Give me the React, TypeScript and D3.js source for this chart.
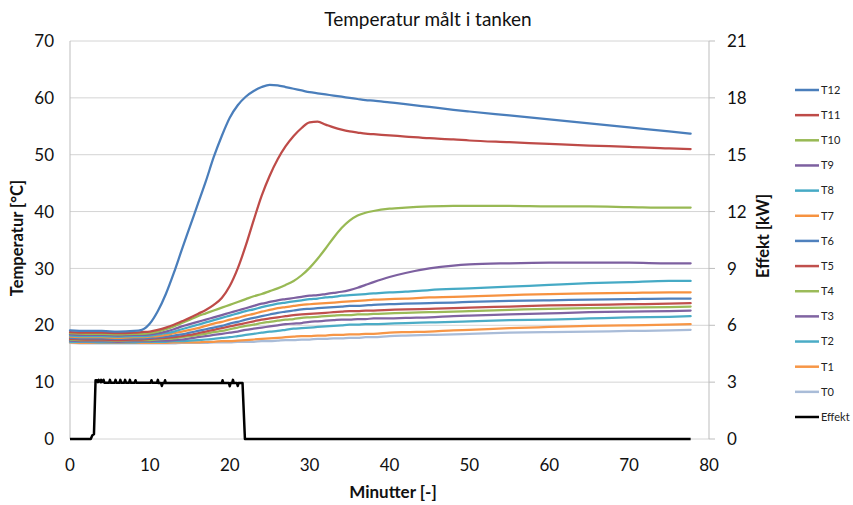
import React from "react";
import * as d3 from "d3";

const minutes = [0, 2, 4, 6, 8, 9, 10, 11, 12, 13, 14, 15, 16, 17, 18, 19, 20, 21, 22, 23, 24, 25, 26, 27, 28, 29, 30, 31, 32, 33, 34, 35, 36, 37, 38, 40, 42, 45, 48, 50, 55, 60, 65, 70, 75, 77.7];

const T12 = [19.1, 19.0, 19.0, 18.9, 19.0, 19.2, 20.3, 22.5, 25.5, 29.2, 33.3, 37.3, 41.3, 45.3, 49.6, 53.3, 56.5, 58.7, 60.2, 61.2, 61.9, 62.3, 62.2, 61.9, 61.6, 61.3, 61.0, 60.8, 60.6, 60.4, 60.2, 60.0, 59.8, 59.6, 59.5, 59.2, 58.9, 58.4, 57.9, 57.6, 56.9, 56.2, 55.5, 54.8, 54.1, 53.7];
const T11 = [18.8, 18.7, 18.7, 18.6, 18.7, 18.8, 18.9, 19.2, 19.6, 20.1, 20.7, 21.3, 22.0, 22.7, 23.6, 24.8, 26.9, 30.0, 34.0, 38.5, 42.8, 46.3, 49.2, 51.5, 53.3, 54.7, 55.7, 55.8, 55.3, 54.8, 54.4, 54.1, 53.9, 53.7, 53.6, 53.4, 53.2, 52.9, 52.7, 52.5, 52.2, 51.9, 51.6, 51.4, 51.1, 51.0];
const T10 = [18.6, 18.5, 18.5, 18.4, 18.5, 18.5, 18.6, 18.9, 19.3, 19.8, 20.4, 21.0, 21.6, 22.1, 22.6, 23.1, 23.6, 24.1, 24.6, 25.1, 25.5, 26.0, 26.5, 27.1, 27.8, 28.8, 30.1, 31.7, 33.5, 35.4, 37.1, 38.4, 39.3, 39.8, 40.1, 40.5, 40.7, 40.9, 41.0, 41.0, 41.0, 40.9, 40.9, 40.8, 40.7, 40.7];
const T9 = [18.4, 18.3, 18.3, 18.2, 18.3, 18.3, 18.4, 18.6, 18.9, 19.3, 19.8, 20.2, 20.6, 21.0, 21.4, 21.8, 22.2, 22.6, 23.0, 23.4, 23.8, 24.1, 24.4, 24.6, 24.8, 25.0, 25.2, 25.3, 25.5, 25.7, 25.9, 26.2, 26.6, 27.1, 27.6, 28.5, 29.2, 30.0, 30.5, 30.7, 30.9, 31.0, 31.0, 31.0, 30.9, 30.9];
const T8 = [18.2, 18.1, 18.1, 18.0, 18.1, 18.1, 18.2, 18.4, 18.6, 18.9, 19.3, 19.7, 20.1, 20.5, 20.9, 21.3, 21.7, 22.1, 22.5, 22.8, 23.2, 23.5, 23.8, 24.0, 24.2, 24.4, 24.6, 24.7, 24.9, 25.0, 25.2, 25.3, 25.4, 25.5, 25.6, 25.8, 25.9, 26.2, 26.4, 26.5, 26.8, 27.1, 27.4, 27.6, 27.8, 27.8];
const T7 = [18.0, 17.9, 17.9, 17.8, 17.9, 17.9, 18.0, 18.1, 18.3, 18.6, 18.9, 19.2, 19.5, 19.9, 20.3, 20.6, 21.0, 21.3, 21.7, 22.0, 22.4, 22.7, 23.0, 23.2, 23.4, 23.6, 23.7, 23.8, 23.9, 24.0, 24.1, 24.2, 24.3, 24.4, 24.5, 24.6, 24.7, 24.9, 25.0, 25.1, 25.3, 25.5, 25.6, 25.7, 25.8, 25.8];
const T6 = [17.8, 17.7, 17.7, 17.6, 17.7, 17.7, 17.8, 17.9, 18.0, 18.2, 18.4, 18.7, 19.0, 19.3, 19.6, 19.9, 20.3, 20.6, 21.0, 21.3, 21.6, 21.9, 22.2, 22.4, 22.6, 22.8, 22.9, 23.0, 23.1, 23.2, 23.3, 23.4, 23.4, 23.5, 23.6, 23.7, 23.8, 23.9, 24.0, 24.1, 24.3, 24.4, 24.5, 24.6, 24.7, 24.7];
const T5 = [17.6, 17.5, 17.5, 17.4, 17.5, 17.5, 17.6, 17.7, 17.8, 17.9, 18.1, 18.3, 18.6, 18.9, 19.2, 19.5, 19.8, 20.1, 20.4, 20.7, 21.0, 21.2, 21.4, 21.6, 21.8, 21.9, 22.0, 22.1, 22.2, 22.3, 22.4, 22.5, 22.5, 22.6, 22.6, 22.7, 22.8, 22.9, 23.0, 23.1, 23.3, 23.5, 23.6, 23.7, 23.8, 23.9];
const T4 = [17.5, 17.4, 17.4, 17.3, 17.4, 17.4, 17.4, 17.5, 17.6, 17.7, 17.9, 18.1, 18.3, 18.5, 18.8, 19.0, 19.3, 19.6, 19.9, 20.1, 20.4, 20.6, 20.8, 21.0, 21.1, 21.3, 21.4, 21.5, 21.6, 21.7, 21.8, 21.8, 21.9, 21.9, 22.0, 22.1, 22.2, 22.3, 22.4, 22.5, 22.7, 22.9, 23.0, 23.1, 23.2, 23.3];
const T3 = [17.3, 17.2, 17.2, 17.1, 17.2, 17.2, 17.2, 17.3, 17.3, 17.4, 17.5, 17.7, 17.9, 18.1, 18.3, 18.5, 18.7, 18.9, 19.2, 19.4, 19.6, 19.8, 20.0, 20.2, 20.3, 20.4, 20.6, 20.7, 20.8, 20.9, 21.0, 21.0, 21.1, 21.1, 21.2, 21.2, 21.3, 21.4, 21.6, 21.7, 21.9, 22.1, 22.3, 22.4, 22.5, 22.6];
const T2 = [17.1, 17.1, 17.0, 17.0, 17.0, 17.1, 17.1, 17.1, 17.1, 17.2, 17.2, 17.3, 17.4, 17.5, 17.6, 17.8, 17.9, 18.1, 18.3, 18.5, 18.7, 18.9, 19.0, 19.2, 19.4, 19.5, 19.6, 19.7, 19.8, 19.9, 20.0, 20.1, 20.1, 20.2, 20.2, 20.3, 20.4, 20.5, 20.6, 20.7, 20.9, 21.0, 21.2, 21.4, 21.5, 21.6];
const T1 = [17.0, 16.9, 16.9, 16.9, 16.9, 16.9, 16.9, 16.9, 16.9, 17.0, 17.0, 17.0, 17.0, 17.1, 17.1, 17.2, 17.2, 17.3, 17.4, 17.5, 17.6, 17.7, 17.8, 17.9, 18.0, 18.1, 18.1, 18.2, 18.2, 18.3, 18.3, 18.4, 18.4, 18.5, 18.5, 18.7, 18.8, 18.9, 19.1, 19.2, 19.5, 19.7, 19.9, 20.0, 20.1, 20.2];
const T0 = [16.9, 16.8, 16.8, 16.8, 16.8, 16.8, 16.8, 16.8, 16.8, 16.8, 16.9, 16.9, 16.9, 16.9, 17.0, 17.0, 17.0, 17.1, 17.1, 17.1, 17.2, 17.2, 17.3, 17.4, 17.4, 17.5, 17.5, 17.6, 17.6, 17.7, 17.7, 17.8, 17.8, 17.9, 17.9, 18.1, 18.2, 18.3, 18.4, 18.5, 18.7, 18.8, 18.9, 19.0, 19.1, 19.2];

const effektMinutes = [0, 2.6, 2.8, 3.0, 3.2, 3.4, 3.5, 3.6, 3.8, 3.9, 4.0, 4.2, 4.3, 4.9, 5.0, 5.1, 5.6, 5.7, 5.8, 6.2, 6.3, 6.4, 6.8, 6.9, 7.0, 7.4, 7.5, 7.6, 8.1, 8.2, 8.3, 10.1, 10.2, 10.3, 10.9, 11.0, 11.1, 11.4, 11.5, 11.6, 11.8, 11.9, 12.0, 19.0, 19.1, 19.2, 19.9, 20.0, 20.1, 20.3, 20.4, 20.5, 20.9, 21.0, 21.1, 21.6, 21.9, 77.7];
const effektKW = [0, 0, 0.2, 0.25, 3.1, 3.1, 3.0, 3.12, 3.0, 3.12, 3.0, 3.12, 2.97, 2.97, 3.12, 2.97, 2.97, 3.12, 2.97, 2.97, 3.12, 2.97, 2.97, 3.12, 2.97, 2.97, 3.12, 2.97, 2.97, 3.1, 2.97, 2.97, 3.1, 2.97, 2.97, 3.12, 2.95, 2.95, 2.8, 2.95, 2.95, 3.1, 2.95, 2.95, 3.1, 2.95, 2.95, 2.78, 2.95, 2.95, 3.12, 2.95, 2.95, 2.8, 2.95, 2.95, 0, 0];

const seriesNames = ["T12", "T11", "T10", "T9", "T8", "T7", "T6", "T5", "T4", "T3", "T2", "T1", "T0"];
const seriesValues = [T12, T11, T10, T9, T8, T7, T6, T5, T4, T3, T2, T1, T0];
const seriesColors = ["#4A7EBB", "#BE4B48", "#98B954", "#7D60A0", "#46AAC5", "#F69240", "#4F81BD", "#C0504D", "#9BBB59", "#8064A2", "#4BACC6", "#F79646", "#A9BCD8"];

const xTicks = [0, 10, 20, 30, 40, 50, 60, 70, 80];
const yTicks = [0, 10, 20, 30, 40, 50, 60, 70];
const yRightTicks = [0, 3, 6, 9, 12, 15, 18, 21];

const title = "Temperatur målt i tanken";
const xTitle = "Minutter [-]";
const yTitle = "Temperatur [°C]";
const yRightTitle = "Effekt [kW]";
const effektName = "Effekt";

const FONT = "Lato, 'Open Sans', sans-serif";

export default function App() {
  const W = 853, H = 505;
  const x = d3.scaleLinear().domain([0, 80]).range([70, 709]);
  const y = d3.scaleLinear().domain([0, 70]).range([439, 41]);
  const yR = d3.scaleLinear().domain([0, 21]).range([439, 41]);

  const tempLine = d3.line<number>()
    .x((_, i) => x(minutes[i]))
    .y((d) => y(d))
    .curve(d3.curveMonotoneX);

  const effektLine = d3.line<number>()
    .x((_, i) => x(effektMinutes[i]))
    .y((d) => yR(d));

  const legendNames = [...seriesNames, effektName];
  const legendColors = [...seriesColors, "#000000"];
  const legendY = d3.scalePoint<string>().domain(legendNames).range([90, 417]);

  const order = seriesValues.map((_, i) => i).reverse();

  return (
    <svg width={W} height={H} style={{ position: "absolute", left: 0, top: 0, background: "#fff" }} fontFamily={FONT}>
      <rect x={0} y={0} width={W} height={H} fill="#fff" />
      <text x={428} y={26} textAnchor="middle" fontSize={19} fill="#111">{title}</text>

      {yTicks.map((t) => (
        <line key={"g" + t} x1={x(0)} x2={x(80)} y1={y(t)} y2={y(t)} stroke="#D4D4D4" strokeWidth={1} />
      ))}
      <line x1={x(0)} x2={x(0)} y1={y(0)} y2={y(70)} stroke="#BDBDBD" strokeWidth={1} />
      <line x1={x(80)} x2={x(80)} y1={y(0)} y2={y(70)} stroke="#BDBDBD" strokeWidth={1} />
      {yRightTicks.map((t) => (
        <line key={"rt" + t} x1={x(80)} x2={x(80) + 6} y1={yR(t)} y2={yR(t)} stroke="#BDBDBD" strokeWidth={1} />
      ))}

      {yTicks.map((t) => (
        <text key={"yl" + t} x={54} y={y(t)} dy="0.36em" textAnchor="end" fontSize={17} fill="#111">{t}</text>
      ))}
      {yRightTicks.map((t) => (
        <text key={"yr" + t} x={727} y={yR(t)} dy="0.36em" textAnchor="start" fontSize={17} fill="#111">{t}</text>
      ))}
      {xTicks.map((t) => (
        <text key={"xl" + t} x={x(t)} y={471} textAnchor="middle" fontSize={17} fill="#111">{t}</text>
      ))}

      <text x={393} y={498} textAnchor="middle" fontSize={17} fontWeight="bold" fill="#111">{xTitle}</text>
      <text transform={`translate(23,238) rotate(-90)`} textAnchor="middle" fontSize={16.5} fontWeight="bold" fill="#111">{yTitle}</text>
      <text transform={`translate(769,236) rotate(-90)`} textAnchor="middle" fontSize={16.5} fontWeight="bold" fill="#111">{yRightTitle}</text>

      {order.map((i) => (
        <path key={seriesNames[i]} d={tempLine(seriesValues[i]) || ""} fill="none" stroke={seriesColors[i]} strokeWidth={2.25} strokeLinejoin="round" strokeLinecap="round" />
      ))}
      <path d={effektLine(effektKW) || ""} fill="none" stroke="#000" strokeWidth={2.5} strokeLinejoin="round" />

      {legendNames.map((n, i) => (
        <g key={"lg" + n}>
          <line x1={795} x2={819} y1={legendY(n)} y2={legendY(n)} stroke={legendColors[i]} strokeWidth={2.5} />
          <text x={821} y={legendY(n)} dy="0.35em" fontSize={11} fill="#222">{n}</text>
        </g>
      ))}
    </svg>
  );
}
